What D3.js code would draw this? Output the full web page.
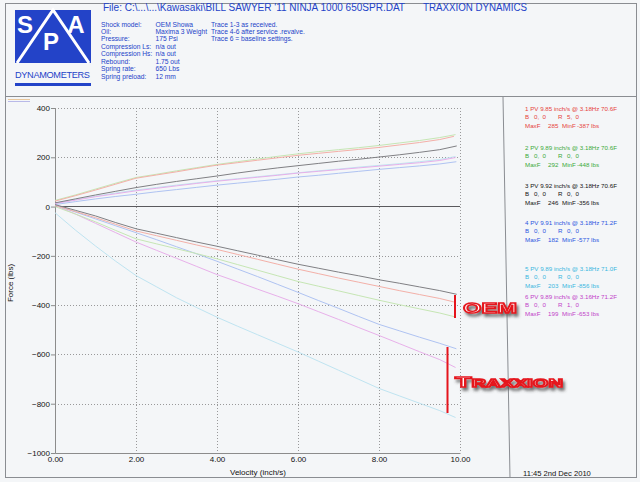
<!DOCTYPE html>
<html>
<head>
<meta charset="utf-8">
<script src="https://cdn.jsdelivr.net/npm/d3@7/dist/d3.min.js"></script>
<style>
  html, body { margin: 0; padding: 0; background: #f4f6f8; }
  svg { display: block; }
  text { font-family: "Liberation Sans", Arial, sans-serif; }
</style>
</head>
<body>
<svg id="chart" width="640" height="482"></svg>
<script>
// ---- shock dyno data -------------------------------------------------------
const velocities = [0, 0.5, 1, 1.5, 2, 2.5, 3, 3.5, 4, 4.5, 5, 5.5, 6, 6.5, 7, 7.5, 8, 8.5, 9, 9.5];

const traceIds  = [1, 2, 3, 4, 5, 6];
const peakVel   = [9.85, 9.89, 9.92, 9.91, 9.89, 9.89];
const freqHz    = ["3.18", "3.18", "3.18", "3.18", "3.18", "3.16"];
const tempF     = ["70.6", "70.6", "70.6", "71.2", "71.0", "71.2"];
const bumpClick = ["0,  0", "0,  0", "0,  0", "0,  0", "0,  0", "0,  0"];
const rebClick  = ["5,  0", "0,  0", "0,  0", "0,  0", "0,  0", "1,  0"];
const maxF      = [285, 292, 246, 182, 203, 199];
const minF      = [-387, -448, -356, -577, -856, -653];

// compression side (lbs) at each velocity in `velocities`; last point is MaxF at peak velocity
const comp1 = [22, 44, 67, 91, 115, 128, 141, 155, 168, 178, 188, 198, 208, 216, 224, 232, 240, 250, 260, 272];
const comp2 = [25, 47, 71, 95, 118, 131, 145, 158, 171, 182, 193, 204, 214, 223, 231, 239, 248, 258, 268, 280];
const comp3 = [15, 31, 47, 62, 77, 90, 102, 113, 124, 136, 147, 157, 166, 175, 184, 192, 201, 210, 220, 231];
const comp4 = [8, 20, 31, 41, 50, 60, 69, 78, 87, 95, 103, 111, 120, 127, 135, 143, 151, 158, 165, 173];
const comp5 = [14, 28, 42, 55, 67, 77, 87, 96, 105, 113, 121, 129, 137, 145, 152, 160, 167, 174, 182, 191];
const comp6 = [12, 26, 40, 52, 64, 74, 84, 94, 103, 111, 119, 127, 136, 143, 150, 157, 164, 171, 178, 187];

// rebound side (lbs); last point is MinF at peak velocity
const reb1 = [5, -20, -45, -72, -99, -118, -137, -156, -174, -194, -214, -234, -254, -272, -290, -307, -324, -341, -357, -373];
const reb2 = [0, -30, -62, -97, -131, -151, -171, -191, -212, -235, -258, -281, -304, -323, -342, -361, -380, -398, -415, -432];
const reb3 = [8, -15, -38, -65, -90, -108, -126, -144, -161, -179, -197, -216, -234, -250, -266, -281, -297, -311, -326, -341];
const reb4 = [5, -22, -50, -78, -106, -134, -163, -192, -222, -253, -284, -316, -348, -381, -413, -446, -478, -504, -530, -555];
const reb5 = [-25, -95, -160, -222, -280, -325, -370, -410, -449, -485, -520, -555, -590, -627, -664, -701, -738, -768, -798, -828];
const reb6 = [5, -30, -68, -106, -144, -177, -210, -243, -276, -305, -335, -364, -394, -426, -458, -491, -523, -556, -589, -621];

const compSeries = [comp1, comp2, comp3, comp4, comp5, comp6];
const rebSeries  = [reb1, reb2, reb3, reb4, reb5, reb6];

const yTicks = [400, 200, 0, -200, -400, -600, -800, -1000];
const xTicks = [0, 2, 4, 6, 8, 10];

const lineColors = ["#f3b0a8", "#c6e6b4", "#808084", "#afc3f2", "#bfe4f1", "#e8b0ea"];
const textColors = ["#e6433c", "#3aaa3a", "#111111", "#2a55e0", "#39b6df", "#c23ec8"];

const infoLabels = ["Shock model:", "Oil:", "Pressure:", "Compression Ls:", "Compression Hs:", "Rebound:", "Spring rate:", "Spring preload:"];
const infoValues = ["OEM Showa", "Maxima 3 Weight", "175 Psi", "n/a out", "n/a out", "1.75 out", "650 Lbs", "12 mm"];
const traceNotes = ["Trace 1-3 as received.", "Trace 4-6 after service .revalve.", "Trace 6 = baseline settings."];

// ---- drawing ---------------------------------------------------------------
const svg = d3.select("#chart");
const blue = "#2343c8";

const x = d3.scaleLinear().domain([0, 10]).range([55, 460]);
const y = d3.scaleLinear().domain([-1000, 400]).range([453, 108]);

// page frame
const frame = svg.append("g").attr("stroke", "#8a8d92").attr("stroke-width", 1).attr("fill", "none");
frame.append("line").attr("x1", 5).attr("x2", 637).attr("y1", 3.5).attr("y2", 3.5);
frame.append("line").attr("x1", 5).attr("x2", 637).attr("y1", 96.5).attr("y2", 96.5);
frame.append("line").attr("x1", 5).attr("x2", 637).attr("y1", 477.5).attr("y2", 477.5);
frame.append("line").attr("x1", 5.5).attr("x2", 5.5).attr("y1", 3).attr("y2", 478);
frame.append("line").attr("x1", 636.5).attr("x2", 636.5).attr("y1", 3).attr("y2", 478);
frame.append("line").attr("x1", 503).attr("x2", 510).attr("y1", 97).attr("y2", 478);

// logo
const logo = svg.append("g");
logo.append("rect").attr("x", 15).attr("y", 10).attr("width", 76).attr("height", 53).attr("fill", blue);
logo.append("path").attr("d", "M17,63 L53,10 L89,63")
  .attr("fill", "none").attr("stroke", "#fff").attr("stroke-width", 3);
[["S", 25, 33], ["A", 76, 33], ["P", 51, 50]].forEach(([t, lx, ly]) => {
  logo.append("text").attr("x", lx).attr("y", ly).attr("text-anchor", "middle")
    .attr("font-size", 24).attr("font-weight", "bold").attr("fill", "#fff").text(t);
});
logo.append("text").attr("x", 15).attr("y", 78).attr("font-size", 9.2)
  .attr("textLength", 75).attr("lengthAdjust", "spacing").attr("fill", blue).text("DYNAMOMETERS");
logo.append("rect").attr("x", 15).attr("y", 83).attr("width", 76).attr("height", 3).attr("fill", blue);

// header text
svg.append("text").attr("x", 103).attr("y", 11).attr("font-size", 10)
  .attr("textLength", 302).attr("lengthAdjust", "spacingAndGlyphs").attr("fill", blue)
  .text("File: C:\\...\\...\\Kawasaki\\BILL SAWYER '11 NINJA 1000 650SPR.DAT");
svg.append("text").attr("x", 423).attr("y", 11).attr("font-size", 10)
  .attr("textLength", 104).attr("lengthAdjust", "spacingAndGlyphs").attr("fill", blue)
  .text("TRAXXION DYNAMICS");

const info = svg.append("g").attr("font-size", 6.7).attr("fill", blue);
infoLabels.forEach((t, i) => info.append("text").attr("x", 101).attr("y", 26.5 + i * 7.47).text(t));
infoValues.forEach((t, i) => info.append("text").attr("x", 155.5).attr("y", 26.5 + i * 7.47).text(t));
traceNotes.forEach((t, i) => info.append("text").attr("x", 211).attr("y", 26.5 + i * 7.47).text(t));

// small swatches in the plot corner
svg.append("line").attr("x1", 8).attr("x2", 30).attr("y1", 99.5).attr("y2", 99.5).attr("stroke", "#e9c79c");
svg.append("line").attr("x1", 8).attr("x2", 30).attr("y1", 101.5).attr("y2", 101.5).attr("stroke", "#b9b9e8");

// grid
const grid = svg.append("g").attr("stroke", "#8e8e8e").attr("stroke-width", 0.9).attr("stroke-dasharray", "1,2");
yTicks.filter(v => v !== 0 && v !== -1000).forEach(v => {
  grid.append("line").attr("x1", x(0)).attr("x2", x(10)).attr("y1", Math.round(y(v)) + 0.5).attr("y2", Math.round(y(v)) + 0.5);
});
xTicks.filter(v => v !== 0).forEach(v => {
  grid.append("line").attr("x1", Math.round(x(v)) + 0.5).attr("x2", Math.round(x(v)) + 0.5).attr("y1", y(400)).attr("y2", y(-1000));
});

// axes
const yAxis = svg.append("g").attr("transform", `translate(${x(0)},0)`)
  .call(d3.axisLeft(y).tickValues(yTicks).tickSize(4).tickPadding(1).tickFormat(d3.format("d")));
const xAxis = svg.append("g").attr("transform", `translate(0,${y(-1000)})`)
  .call(d3.axisBottom(x).tickValues(xTicks).tickSize(0).tickPadding(3).tickFormat(d3.format(".2f")));
[yAxis, xAxis].forEach(a => {
  a.select(".domain").attr("stroke", "#8c8c8c");
  a.selectAll(".tick line").attr("stroke", "#8c8c8c");
  a.selectAll("text").attr("font-size", 8).attr("fill", "#111").attr("font-family", "Liberation Sans, Arial, sans-serif");
});

svg.append("line").attr("x1", x(0)).attr("x2", x(10)).attr("y1", y(0)).attr("y2", y(0))
  .attr("stroke", "#5a5a5e").attr("stroke-width", 1.1);

svg.append("text").attr("transform", `translate(13,283) rotate(-90)`).attr("text-anchor", "middle")
  .attr("font-size", 8).attr("fill", "#111").text("Force (lbs)");
svg.append("text").attr("x", 258).attr("y", 475).attr("text-anchor", "middle")
  .attr("font-size", 8).attr("fill", "#111").text("Velocity (inch/s)");
svg.append("text").attr("x", 523).attr("y", 476).attr("font-size", 7.6).attr("fill", "#111")
  .text("11:45  2nd Dec 2010");

// force-velocity traces
const line = d3.line().x(d => x(d[0])).y(d => y(d[1]));
const curves = svg.append("g").attr("fill", "none").attr("stroke-width", 1);
const order = [4, 5, 3, 1, 0, 2];
order.forEach(i => {
  const c = velocities.map((v, k) => [v, compSeries[i][k]]).concat([[peakVel[i], maxF[i]]]);
  const r = velocities.map((v, k) => [v, rebSeries[i][k]]).concat([[peakVel[i], minF[i]]]);
  curves.append("path").attr("d", line(c)).attr("stroke", lineColors[i]);
  curves.append("path").attr("d", line(r)).attr("stroke", lineColors[i]);
});

// legend blocks
const legendTop = [109, 148, 186, 223, 268.5, 297];
const leg = svg.append("g").attr("font-size", 6.2);
traceIds.forEach((id, i) => {
  const g = leg.append("g").attr("fill", textColors[i]);
  const y0 = legendTop[i] + 2;
  g.append("text").attr("x", 525).attr("y", y0)
    .text(`${id} PV ${peakVel[i].toFixed(2)} inch/s @ ${freqHz[i]}Hz ${tempF[i]}F`);
  g.append("text").attr("x", 525).attr("y", y0 + 8.4).text("B");
  g.append("text").attr("x", 534).attr("y", y0 + 8.4).attr("xml:space", "preserve").text(bumpClick[i]);
  g.append("text").attr("x", 558).attr("y", y0 + 8.4).text("R");
  g.append("text").attr("x", 567).attr("y", y0 + 8.4).attr("xml:space", "preserve").text(rebClick[i]);
  g.append("text").attr("x", 525).attr("y", y0 + 17).text("MaxF");
  g.append("text").attr("x", 548).attr("y", y0 + 17).text(maxF[i]);
  g.append("text").attr("x", 562).attr("y", y0 + 17).text("MinF");
  g.append("text").attr("x", 577).attr("y", y0 + 17).text(`${minF[i]} lbs`);
});

// OEM / Traxxion annotations with a soft drop shadow
const defs = svg.append("defs");
const sh = defs.append("filter").attr("id", "shadow")
  .attr("x", "-20%").attr("y", "-60%").attr("width", "150%").attr("height", "240%");
sh.append("feOffset").attr("in", "SourceAlpha").attr("dx", 2).attr("dy", 3).attr("result", "off");
sh.append("feGaussianBlur").attr("in", "off").attr("stdDeviation", 1.6).attr("result", "blur");
sh.append("feFlood").attr("flood-color", "#3c3c3c").attr("flood-opacity", 0.7).attr("result", "col");
sh.append("feComposite").attr("in", "col").attr("in2", "blur").attr("operator", "in").attr("result", "shade");
const merge = sh.append("feMerge");
merge.append("feMergeNode").attr("in", "shade");
merge.append("feMergeNode").attr("in", "SourceGraphic");

const red = "#e5141c";
svg.append("line").attr("x1", 455).attr("x2", 455).attr("y1", 295).attr("y2", 318).attr("stroke", red).attr("stroke-width", 2);
svg.append("line").attr("x1", 447.5).attr("x2", 447.5).attr("y1", 347).attr("y2", 413).attr("stroke", red).attr("stroke-width", 2);

function badge(tx, ty, parts, len) {
  const t = svg.append("text").attr("x", tx).attr("y", ty)
    .attr("font-family", "DejaVu Sans, sans-serif").attr("font-weight", "bold")
    .attr("textLength", len).attr("lengthAdjust", "spacingAndGlyphs")
    .attr("fill", "#fff").attr("stroke", red).attr("stroke-width", 1.4)
    .attr("filter", "url(#shadow)");
  parts.forEach(([s, fs]) => t.append("tspan").attr("font-size", fs).text(s));
}
badge(463, 312.5, [["OEM", 15.5]], 54);
badge(455, 387, [["T", 15.5], ["RAXXION", 11.5]], 108);
</script>
</body>
</html>
